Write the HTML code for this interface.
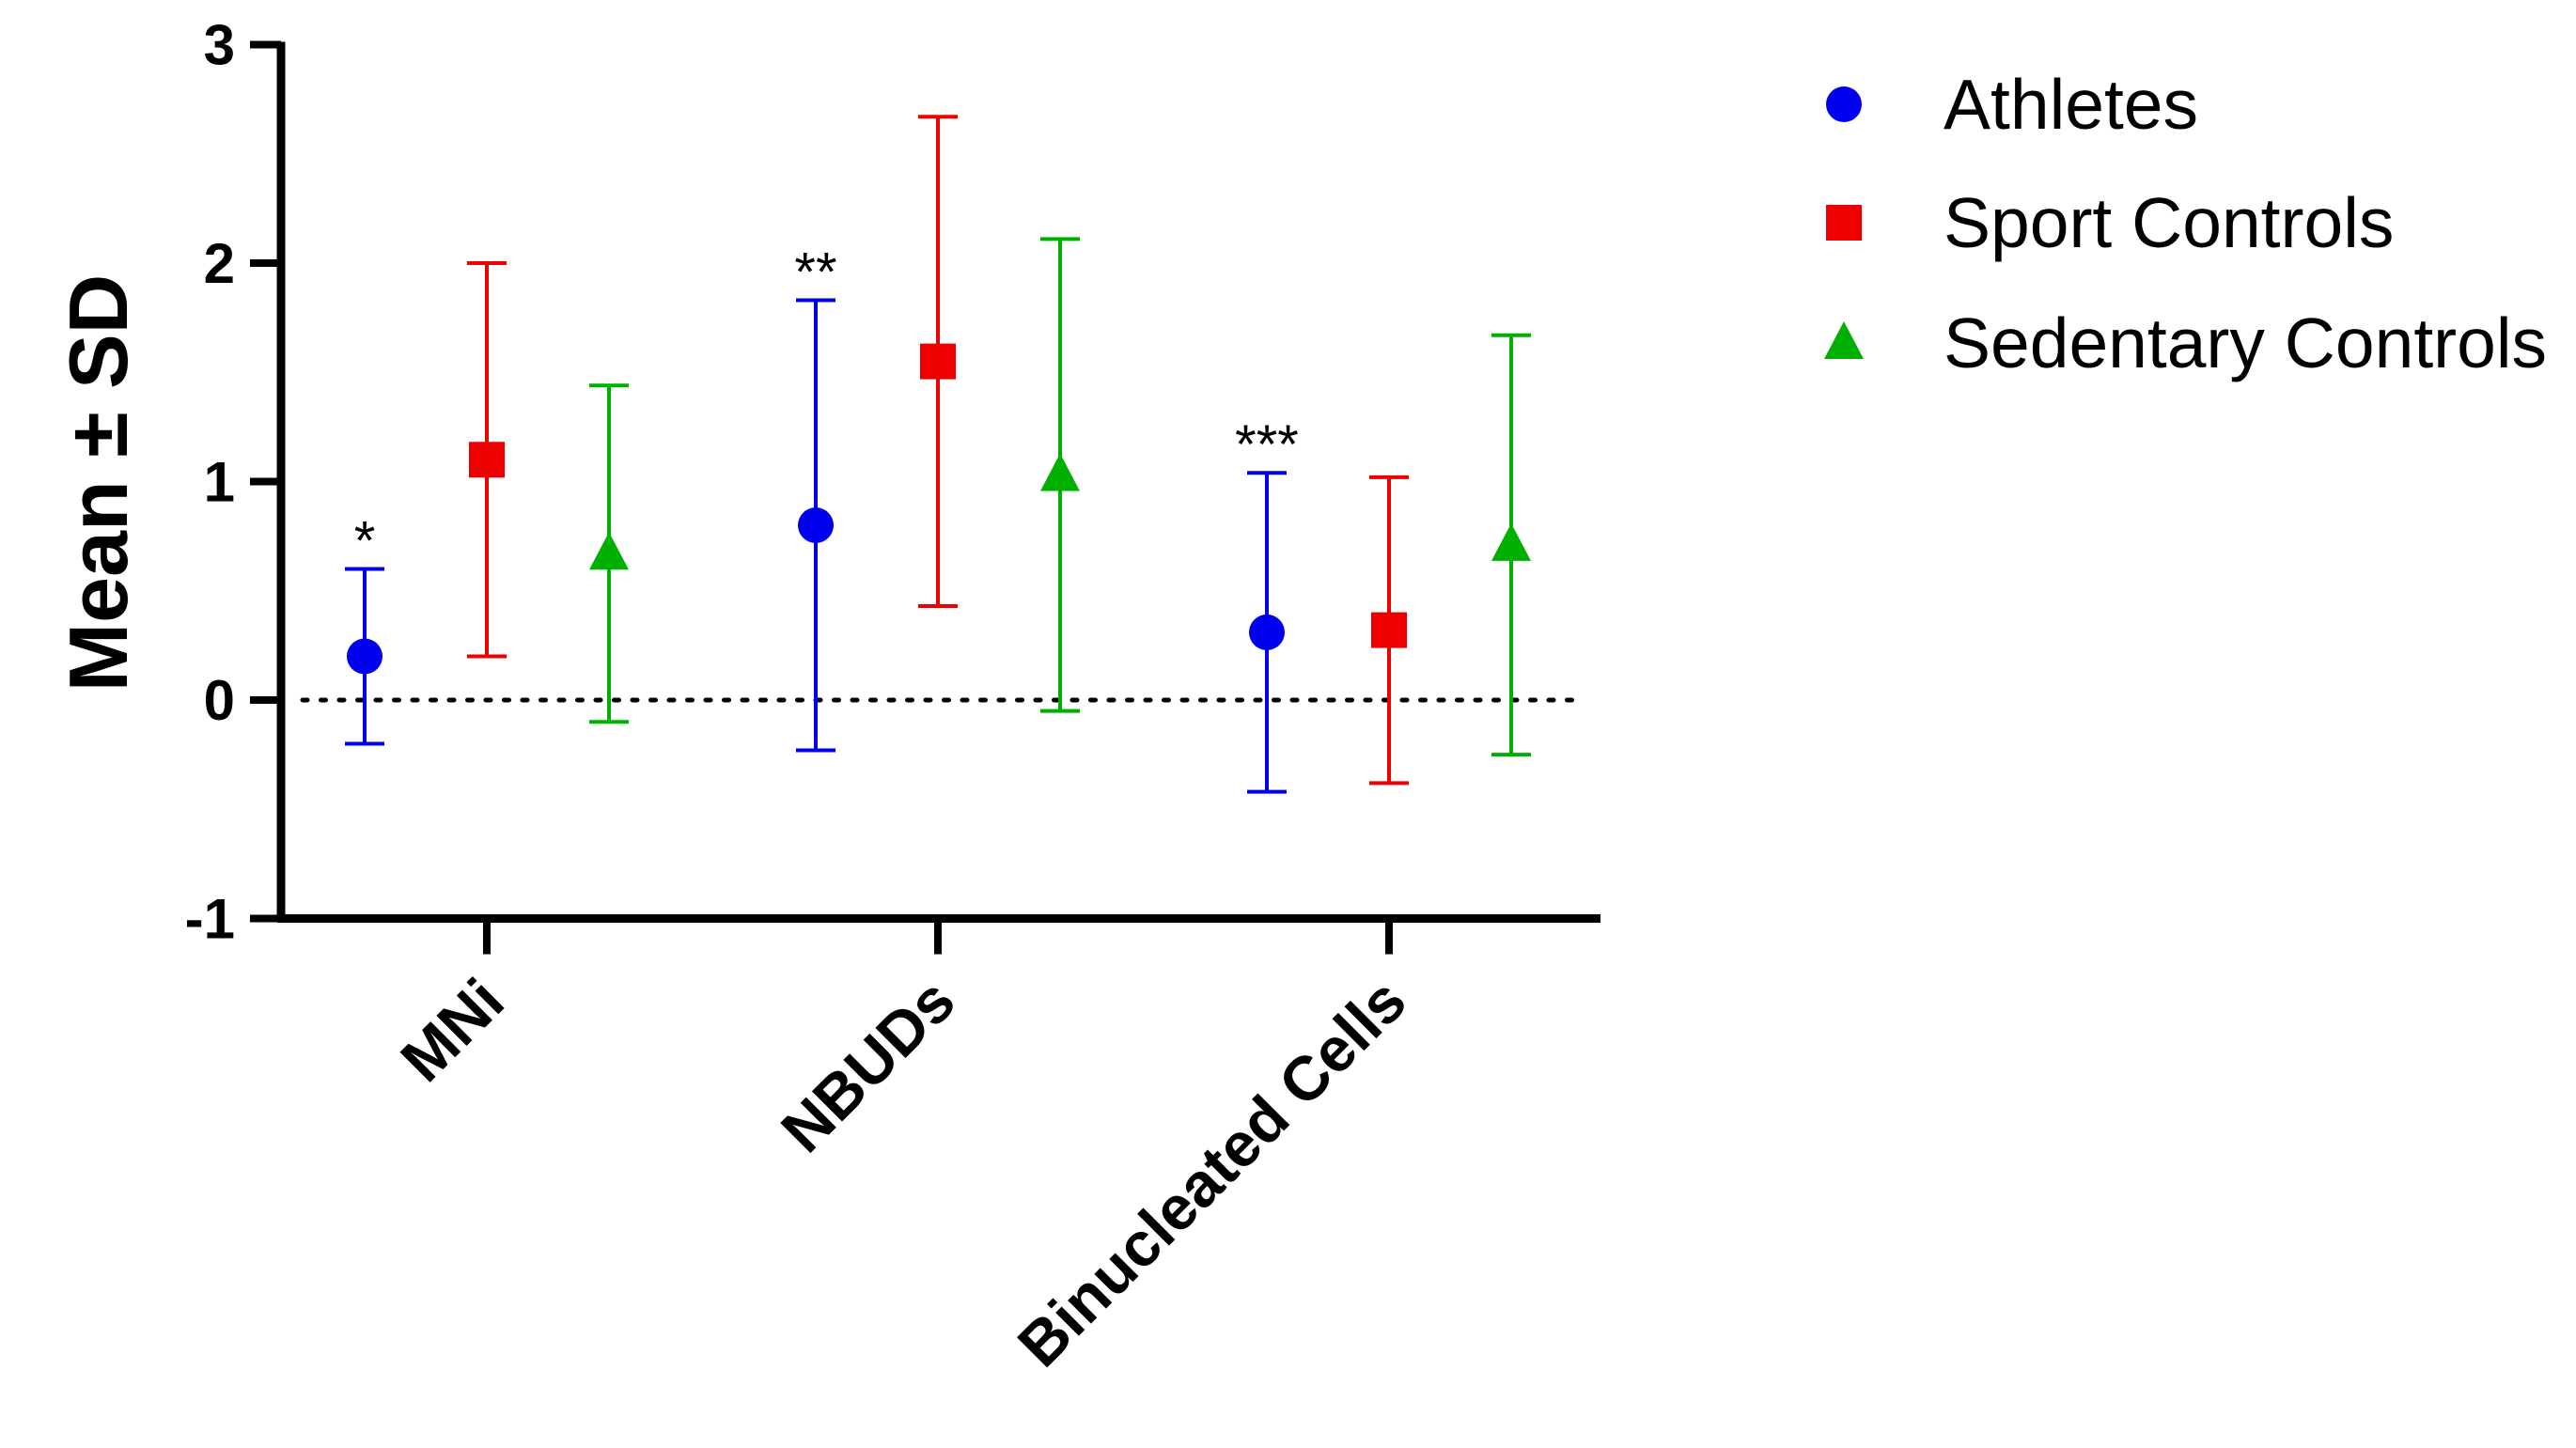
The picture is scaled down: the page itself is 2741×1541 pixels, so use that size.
<!DOCTYPE html>
<html><head><meta charset="utf-8"><style>
html,body{margin:0;padding:0;background:#fff;}
svg{display:block;font-family:"Liberation Sans",Arial,sans-serif;}
</style></head><body>
<svg id="chart" width="2741" height="1541" viewBox="0 0 2741 1541"></svg>
<script>
const categories = ["MNi","NBUDs","Binucleated Cells"];
const seriesNames = ["Athletes","Sport Controls","Sedentary Controls"];
const athMean = [0.2,0.8,0.31];
const athSD = [0.4,1.03,0.73];
const sportMean = [1.1,1.55,0.32];
const sportSD = [0.9,1.12,0.7];
const sedMean = [0.67,1.03,0.71];
const sedSD = [0.77,1.08,0.96];
const stars = ["*","**","***"];
const yTicks = [-1,0,1,2,3];

const NS="http://www.w3.org/2000/svg";
const svg=document.getElementById('chart');
function el(t,a,txt){const e=document.createElementNS(NS,t);for(const k in a)e.setAttribute(k,a[k]);if(txt!==undefined)e.textContent=txt;svg.appendChild(e);return e;}
const y0=745, unit=232.5;
function Y(v){return y0-v*unit;}
const catX=[518,998,1478];
function X(ci,si){return catX[ci]+(si-1)*130;}

let zl=el('line',{x1:322,x2:1680,y1:Y(0),y2:Y(0),stroke:'#000','stroke-width':5,'stroke-dasharray':'5 14.5','stroke-linecap':'round'});



let ya=el('line',{x1:299,x2:299,y1:Y(3)-3,y2:Y(-1)+4,stroke:'#000','stroke-width':9});


let xa=el('line',{x1:295,x2:1703,y1:Y(-1),y2:Y(-1),stroke:'#000','stroke-width':9});


yTicks.forEach(v=>{
  let t=el('line',{x1:266,x2:299,y1:Y(v),y2:Y(v),stroke:'#000','stroke-width':8});
  
  
  let l=el('text',{x:250,y:Y(v)+21,'text-anchor':'end','font-size':60,'font-weight':'bold'},String(v));
  
  
});
categories.forEach((c,i)=>{
  let t=el('line',{x1:catX[i],x2:catX[i],y1:Y(-1),y2:Y(-1)+38,stroke:'#000','stroke-width':8});
  
  
  let l=el('text',{x:0,y:0,'text-anchor':'end','font-size':66,'font-weight':'bold',transform:`translate(${catX[i]+22},${Y(-1)+92}) rotate(-45)`},c);
  
  
});
let yt=el('text',{x:0,y:0,'text-anchor':'middle','font-size':88,'font-weight':'bold',transform:'translate(135,514) rotate(-90)'},'Mean ± SD');



const colors=['#0000ee','#ee0000','#00b000'];
const means=[athMean,sportMean,sedMean], sds=[athSD,sportSD,sedSD];
function marker(si,x,y){
  let m;
  if(si===0) m=el('circle',{cx:x,cy:y,r:19,fill:colors[0]});
  else if(si===1) m=el('rect',{x:x-19,y:y-19,width:38,height:38,fill:colors[1]});
  else m=el('polygon',{points:`${x},${y-23} ${x+21},${y+17} ${x-21},${y+17}`,fill:colors[2]});
  return m;
}
for(let si=0;si<3;si++){
  for(let ci=0;ci<3;ci++){
    const x=X(ci,si), m=means[si][ci], s=sds[si][ci];
    const top=Y(m+s), bot=Y(m-s);
    let v=el('line',{x1:x,x2:x,y1:top,y2:bot,stroke:colors[si],'stroke-width':4});
    
    
    [top,bot].forEach(yy=>{
      let c=el('line',{x1:x-21,x2:x+21,y1:yy,y2:yy,stroke:colors[si],'stroke-width':4});
      
      
    });
    let mk=marker(si,x,Y(m));
    
    
    if(si===0){
      let st=el('text',{x:x,y:top-10,'text-anchor':'middle','font-size':58},stars[ci]);
      
      
    }
  }
}
const legY=[111,237,365];
seriesNames.forEach((n,si)=>{
  let mk=marker(si,1962,legY[si]);
  
  
  let t=el('text',{x:2068,y:legY[si]+26,'font-size':75},n);
  
  
});
</script>
</body></html>
